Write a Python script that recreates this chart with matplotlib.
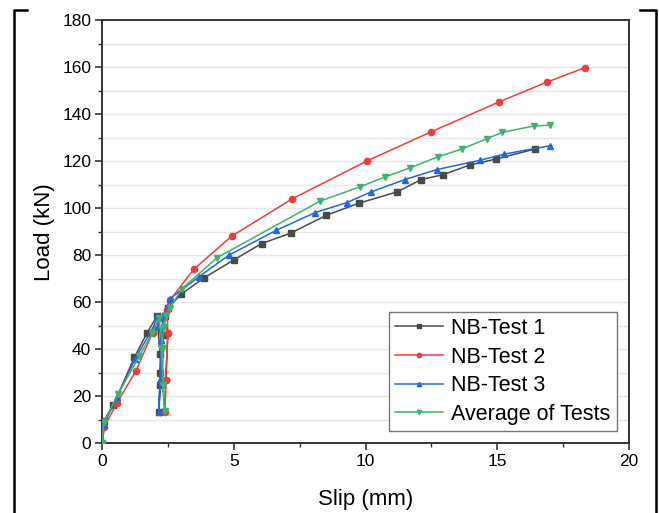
import matplotlib
matplotlib.use("Agg")
import matplotlib.pyplot as plt
from matplotlib.lines import Line2D

plt.rcParams['font.family'] = ['Liberation Sans', 'DejaVu Sans']

# Data
t1_x = [0, 0.05, 0.42, 1.22, 1.7, 2.07, 2.2, 2.2, 2.15, 2.2, 2.3, 2.38, 2.49, 3.0, 3.85, 4.99, 6.05, 7.17, 8.5, 9.75, 11.2, 12.1, 12.94, 13.95, 14.96, 16.42]
t1_y = [0, 9.4, 16.2, 36.6, 47.0, 54.0, 38.0, 25.0, 13.5, 30.0, 46.0, 54.0, 57.5, 63.5, 70.3, 78.0, 85.0, 89.5, 97.0, 102.2, 107.0, 112.2, 114.3, 118.4, 121.0, 125.2]

t2_x = [0, 0.08, 0.55, 1.28, 1.91, 2.3, 2.49, 2.41, 2.38, 2.41, 2.49, 2.46, 2.57, 3.47, 4.92, 7.21, 10.04, 12.5, 15.05, 16.88, 18.34]
t2_y = [0, 7.0, 17.0, 30.9, 47.0, 53.5, 46.8, 26.9, 13.5, 26.9, 46.8, 56.7, 60.9, 74.0, 88.2, 104.0, 120.1, 132.6, 145.2, 153.7, 159.9]

t3_x = [0, 0.05, 0.55, 1.25, 1.95, 2.07, 2.24, 2.2, 2.14, 2.2, 2.24, 2.3, 2.58, 3.66, 4.8, 6.6, 8.09, 9.28, 10.19, 11.48, 12.71, 14.33, 15.24, 17.0]
t3_y = [0, 8.0, 19.5, 36.0, 49.6, 54.2, 44.0, 26.9, 13.3, 26.9, 44.0, 54.0, 61.6, 70.8, 80.0, 90.6, 98.2, 102.4, 106.9, 112.2, 116.5, 120.4, 123.0, 126.6]

avg_x = [0, 0.05, 0.6, 1.4, 1.9, 2.15, 2.3, 2.3, 2.37, 2.3, 2.24, 2.35, 2.41, 2.57, 3.03, 4.36, 8.26, 9.77, 10.73, 11.7, 12.74, 13.65, 14.62, 15.18, 16.38, 16.99]
avg_y = [0, 9.0, 21.0, 37.0, 47.0, 53.5, 40.4, 25.0, 13.7, 25.0, 40.4, 49.6, 54.0, 57.7, 65.8, 79.0, 103.0, 109.1, 113.3, 117.3, 121.9, 125.2, 129.7, 132.3, 135.0, 135.4]

labels = ['NB-Test 1', 'NB-Test 2', 'NB-Test 3', 'Average of Tests']
colors = ['#4a4a4a', '#f23c3c', '#2068dc', '#3cb46e']
markers = ['s', 'o', '^', 'v']

fig = plt.figure(figsize=(6.59, 5.13), dpi=100)
ax = fig.add_axes([102.3/659, 1-443.3/513, (629-102.3)/659, (443.3-20.3)/513])

series = [(t1_x, t1_y), (t2_x, t2_y), (t3_x, t3_y), (avg_x, avg_y)]
for (xs, ys), lab, c, m in zip(series, labels, colors, markers):
    ax.plot(xs, ys, color=c, marker=m, markersize=4.5, linewidth=1.1, label=lab, zorder=3)

ax.set_xlim(0, 20)
ax.set_ylim(0, 180)
ax.set_xticks([0, 5, 10, 15, 20])
ax.set_xticks([2.5, 7.5, 12.5, 17.5], minor=True)
ax.set_yticks(range(0, 181, 20))
ax.set_yticks(range(10, 180, 20), minor=True)
ax.yaxis.grid(True, which='both', color='#e6e6e6', linewidth=1.0, zorder=0)
ax.set_axisbelow(True)

for s in ax.spines.values():
    s.set_color('#333333')
    s.set_linewidth(1.4)
ax.tick_params(which='major', direction='out', length=5, width=1.2, color='#333333', labelsize=12.5, pad=3)
ax.tick_params(which='minor', direction='out', length=3, width=1.0, color='#333333')
ax.tick_params(top=False, right=False)

ax.set_xlabel('Slip (mm)', fontsize=16, labelpad=14)
ax.set_ylabel('Load (kN)', fontsize=16, labelpad=5)

leg = ax.legend(loc='lower right', bbox_to_anchor=(0.977, 0.029), borderaxespad=0,
                fontsize=15.5, handlelength=2.2, handletextpad=0.4, labelspacing=0.35,
                borderpad=0.3, fancybox=False, framealpha=1, edgecolor='#777777',
                markerscale=0.7)
leg.get_frame().set_linewidth(1.0)

# bracket border lines
fig.add_artist(Line2D([27/659, 14/659, 14/659], [1-9.5/513, 1-9.5/513, 0], color='black', linewidth=1.8, transform=fig.transFigure))
fig.add_artist(Line2D([640/659, 656/659, 656/659], [1-9.5/513, 1-9.5/513, 0], color='black', linewidth=1.8, transform=fig.transFigure))

fig.savefig('out.png', dpi=100)
